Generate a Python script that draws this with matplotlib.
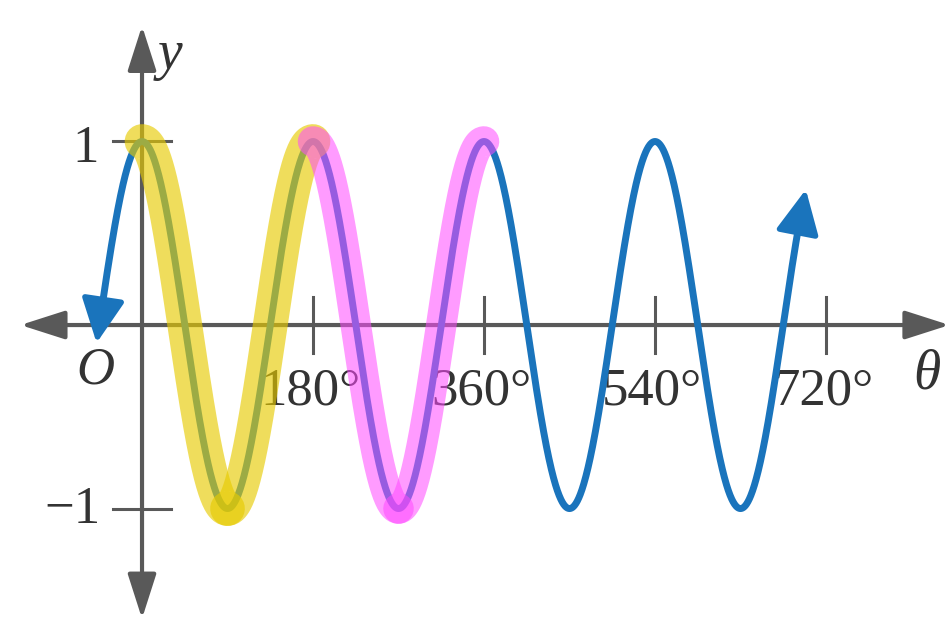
import numpy as np
import matplotlib
matplotlib.use("Agg")
import matplotlib.pyplot as plt

# ---- data ----
amplitude = 1.0
period_deg = 180.0            # y = cos(2*theta)
theta_start, theta_end = -46, 697
yellow_range = [0, 90, 180]   # highlighted first period (two strokes)
magenta_range = [180, 270, 360]
xticks = [180, 360, 540, 720]
xtick_labels = ["180°", "360°", "540°", "720°"]
yticks = [1, -1]
ytick_labels = ["1", "−1"]

def f(t):
    return amplitude * np.cos(2 * np.pi * np.asarray(t) / period_deg)

W, H = 953, 635
fig = plt.figure(figsize=(W / 100, H / 100), dpi=100)
ax = fig.add_axes([0, 0, 1, 1])
ax.set_xlim(-149.5, 853.7)
ax.set_ylim(-1.689, 1.771)
ax.axis("off")

grey = "#595959"
blue = "#1a74bc"
yellow = (231 / 255, 203 / 255, 0)
magenta = (1.0, 73 / 255, 1.0)
serif = ["Liberation Serif", "DejaVu Serif"]

# axes with arrows
astyle = "<|-|>,head_length=0.5,head_width=0.16"
ax.annotate("", xy=(850, 0), xytext=(-128, 0),
            arrowprops=dict(arrowstyle=astyle, color=grey, lw=3,
                            mutation_scale=55, shrinkA=0, shrinkB=0),
            zorder=1)
ax.annotate("", xy=(0, 1.63), xytext=(0, -1.60),
            arrowprops=dict(arrowstyle=astyle, color=grey, lw=3,
                            mutation_scale=55, shrinkA=0, shrinkB=0),
            zorder=1)

# ticks
for xt in xticks:
    ax.plot([xt, xt], [-0.15, 0.15], color=grey, lw=2.2, zorder=1)
for yt in yticks:
    ax.plot([-30.5, 30.5], [yt, yt], color=grey, lw=2.2, zorder=1)

# tick labels
for xt, lab in zip(xticks, xtick_labels):
    ax.text(xt - 3, -0.36, lab, ha="center", va="center", fontsize=38,
            family=serif, color="#333333", zorder=1)
ax.text(-59, 0.96, ytick_labels[0], ha="center", va="center", fontsize=38,
        family=serif, color="#333333", zorder=1)
ax.text(-44, -1.01, ytick_labels[1], ha="right", va="center", fontsize=38,
        family=serif, color="#333333", zorder=1)

# axis names
ax.text(29, 1.47, "y", ha="center", va="center", fontsize=40, style="italic",
        family=serif, color="#333333")
ax.text(826, -0.27, "θ", ha="center", va="center", fontsize=40, style="italic",
        family=serif, color="#333333")
ax.text(-49, -0.25, "O", ha="center", va="center", fontsize=38, style="italic",
        family=serif, color="#333333")

# main curve
t = np.linspace(theta_start, theta_end, 2000)
ax.plot(t, f(t), color=blue, lw=5, zorder=3, solid_capstyle="butt")
# arrow heads at both ends
for tip, back in [(theta_start, theta_start + 6), (theta_end, theta_end - 6)]:
    ax.annotate("", xy=(tip + (tip - back) * 0.3, f(tip + (tip - back) * 0.3)),
                xytext=(back, f(back)),
                arrowprops=dict(arrowstyle="-|>,head_length=0.45,head_width=0.22",
                                color=blue, lw=4, mutation_scale=60,
                                shrinkA=0, shrinkB=0),
                zorder=3)

# highlights (separate strokes so overlaps darken)
for rng, col, lw, a in [(yellow_range, yellow, 25, 0.64), (magenta_range, magenta, 22, 0.55)]:
    for a0, a1 in zip(rng[:-1], rng[1:]):
        tt = np.linspace(a0, a1, 400)
        ax.plot(tt, f(tt), color=col, lw=lw, alpha=a, zorder=4,
                solid_capstyle="round")

fig.savefig("out.png", dpi=100)
